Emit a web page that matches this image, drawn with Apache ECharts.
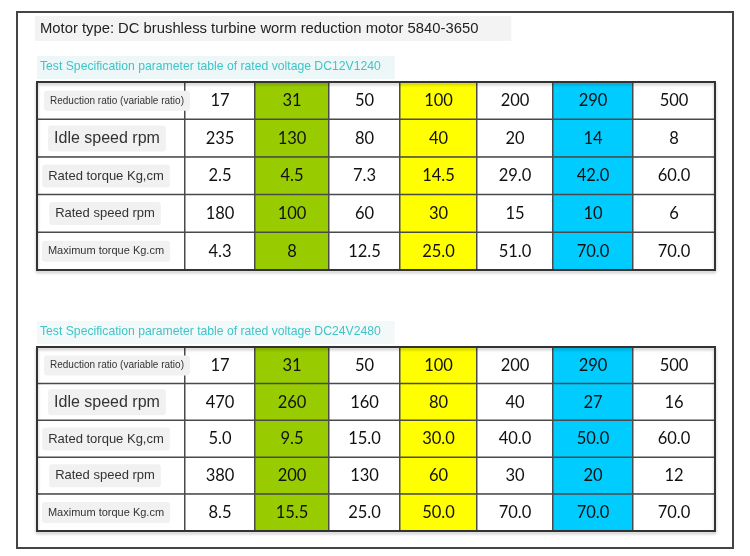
<!DOCTYPE html>
<html lang="en">
<head>
    <meta charset="UTF-8">
    <title>Motor spec table</title>
    <script src="https://cdn.jsdelivr.net/npm/echarts@6/dist/echarts.min.js"></script>
</head>
<body style="margin:0;background:#fff">
    <div id="SpecViz" style="width:750px;height:556px"></div>
    <script>
        // table data
        var rowNames = ['Reduction ratio (variable ratio)', 'Idle speed rpm', 'Rated torque Kg,cm', 'Rated speed rpm', 'Maximum torque Kg.cm'];
        var ratios = ['17', '31', '50', '100', '200', '290', '500'];
        var table12V = [
            ['17', '31', '50', '100', '200', '290', '500'],
            ['235', '130', '80', '40', '20', '14', '8'],
            ['2.5', '4.5', '7.3', '14.5', '29.0', '42.0', '60.0'],
            ['180', '100', '60', '30', '15', '10', '6'],
            ['4.3', '8', '12.5', '25.0', '51.0', '70.0', '70.0']
        ];
        var table24V = [
            ['17', '31', '50', '100', '200', '290', '500'],
            ['470', '260', '160', '80', '40', '27', '16'],
            ['5.0', '9.5', '15.0', '30.0', '40.0', '50.0', '60.0'],
            ['380', '200', '130', '60', '30', '20', '12'],
            ['8.5', '15.5', '25.0', '50.0', '70.0', '70.0', '70.0']
        ];

        // styling / layout
        var colColors = ['#ffffff', '#99cc00', '#ffffff', '#ffff00', '#ffffff', '#00ccff', '#ffffff'];
        var labelSizes = [10, 16, 13, 13, 11];
        var labelShift = [6, -4, -5, -6, -5];
        var colEdges = [37, 185, 255, 329, 400, 477, 553, 633, 715]; // pixel column boundaries
        var tableTops = [82, 347];
        var tableHeights = [188, 184];

        var chart = echarts.init(document.getElementById('SpecViz'));

        function hideAxis(data, idx, inv) {
            return {
                type: 'category', data: data, gridIndex: idx, inverse: inv,
                axisLine: { show: false }, axisTick: { show: false }, axisLabel: { show: false },
                splitLine: { show: false }
            };
        }

        var rowIdx = [0, 1, 2, 3, 4];
        var grids = [], xAxes = [], yAxes = [], series = [];
        var tables = [table12V, table24V];

        for (var t = 0; t < 2; t++) {
            var tb = tables[t];
            // column 0 = row names, then one grid per ratio column
            for (var c = 0; c <= ratios.length; c++) {
                var gi = grids.length;
                grids.push({
                    left: colEdges[c], top: tableTops[t],
                    width: colEdges[c + 1] - colEdges[c], height: tableHeights[t]
                });
                xAxes.push(hideAxis([c === 0 ? 'name' : ratios[c - 1]], gi, false));
                yAxes.push(hideAxis(rowIdx, gi, true));

                if (c === 0) {
                    var nameData = [];
                    for (var r = 0; r < rowNames.length; r++) {
                        nameData.push({
                            value: [0, r, r],
                            label: { fontSize: labelSizes[r], offset: [labelShift[r], 0] }
                        });
                    }
                    series.push({
                        type: 'heatmap', xAxisIndex: gi, yAxisIndex: gi,
                        data: nameData,
                        itemStyle: { color: '#ffffff', borderColor: '#4a4a4a', borderWidth: 1.5 },
                        label: {
                            show: true, color: '#333', fontFamily: 'Liberation Sans',
                            backgroundColor: '#f1f1f1', padding: [5, 6], borderRadius: 3,
                            formatter: function (p) { return rowNames[p.value[1]]; }
                        },
                        emphasis: { disabled: true },
                        silent: true
                    });
                } else {
                    var cells = [];
                    for (var r = 0; r < tb.length; r++) {
                        cells.push({ value: [0, r, parseFloat(tb[r][c - 1])] });
                    }
                    series.push({
                        type: 'heatmap', xAxisIndex: gi, yAxisIndex: gi,
                        data: cells,
                        itemStyle: { color: colColors[c - 1], borderColor: '#4a4a4a', borderWidth: 1.5 },
                        label: {
                            show: true, color: '#111', fontFamily: 'Lato', fontSize: 16.5,
                            formatter: (function (tb, col) {
                                return function (p) { return tb[p.value[1]][col]; };
                            })(tb, c - 1)
                        },
                        emphasis: { disabled: true },
                        silent: true
                    });
                }
            }
        }

        var subStyle = { fontSize: 12.2, fontWeight: 'normal', color: '#3fc4c9', fontFamily: 'Liberation Sans' };

        var option = {
            animation: false,
            backgroundColor: '#ffffff',
            title: [{
                text: 'Motor type: DC brushless turbine worm reduction motor 5840-3650',
                left: 35, top: 16, padding: [5, 33, 5, 5], backgroundColor: '#f3f3f3',
                textStyle: { fontSize: 14.8, fontWeight: 'normal', color: '#222', fontFamily: 'Liberation Sans' }
            }, {
                text: 'Test Specification parameter table of rated voltage DC12V1240',
                left: 37, top: 56, padding: [5, 14, 6, 3], backgroundColor: '#eef7f7',
                textStyle: subStyle
            }, {
                text: 'Test Specification parameter table of rated voltage DC24V2480',
                left: 37, top: 321, padding: [5, 14, 6, 3], backgroundColor: '#f3f9f9',
                textStyle: subStyle
            }],
            graphic: [{
                type: 'rect', shape: { x: 17, y: 12, width: 716, height: 536 },
                style: { fill: 'none', stroke: '#444', lineWidth: 2 }, silent: true
            }, {
                type: 'rect', shape: { x: 37, y: 82, width: 678, height: 188 },
                style: { fill: 'none', stroke: '#333', lineWidth: 2, shadowColor: 'rgba(0,0,0,0.25)', shadowBlur: 3, shadowOffsetY: 2 },
                silent: true, z: 100
            }, {
                type: 'rect', shape: { x: 37, y: 347, width: 678, height: 184 },
                style: { fill: 'none', stroke: '#333', lineWidth: 2, shadowColor: 'rgba(0,0,0,0.25)', shadowBlur: 3, shadowOffsetY: 2 },
                silent: true, z: 100
            }],
            grid: grids,
            xAxis: xAxes,
            yAxis: yAxes,
            series: series
        };
        chart.setOption(option);
    </script>
</body>
</html>
